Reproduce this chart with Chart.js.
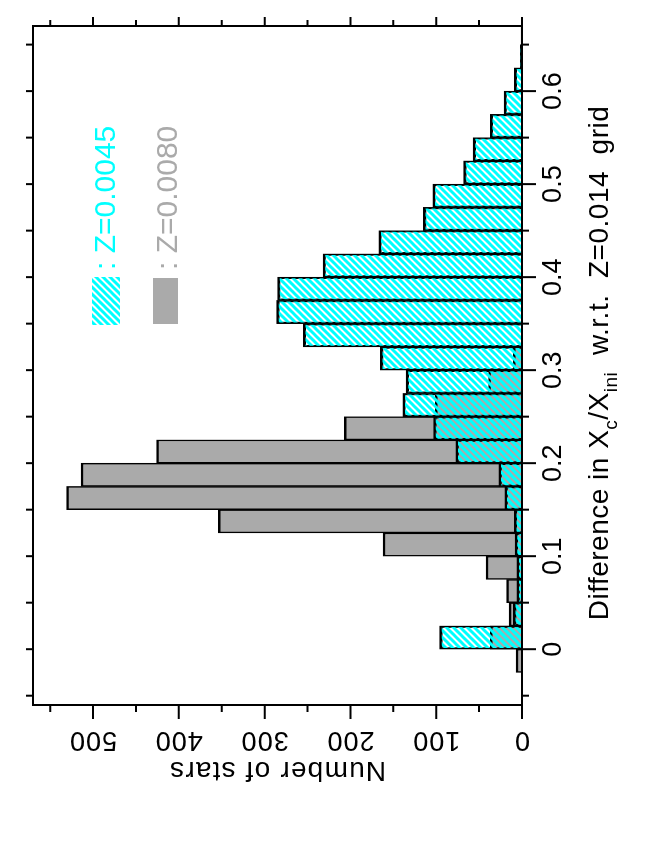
<!DOCTYPE html>
<html>
<head>
<meta charset="utf-8">
<title>Difference in Xc/Xini histogram</title>
<script src="https://cdn.jsdelivr.net/npm/chart.js@4/dist/chart.umd.min.js"></script>
<style>
  html, body { margin: 0; padding: 0; background: #fff; overflow: hidden; }
  /* the figure is drawn landscape and turned a quarter turn, like the printed page */
  #wrap {
    position: absolute; left: 0; top: 846px;
    width: 846px; height: 654px;
    transform-origin: 0 0; transform: rotate(-90deg);
  }
</style>
</head>
<body>
<div id="wrap"><canvas id="chart" width="846" height="654"></canvas></div>
<script>
// bin centres, bins are 0.025 wide
const binCenters = [-0.0125, 0.0125, 0.0375, 0.0625, 0.0875, 0.1125, 0.1375, 0.1625, 0.1875, 0.2125,
  0.2375, 0.2625, 0.2875, 0.3125, 0.3375, 0.3625, 0.3875, 0.4125, 0.4375, 0.4625,
  0.4875, 0.5125, 0.5375, 0.5625, 0.5875, 0.6125, 0.6375, 0.6625];

const countsZ0045 = [null, 96, 10, 6, 6, 8, 9, 20, 27, 77,
  103, 139, 135, 165, 255, 286, 285, 232, 167, 115,
  104, 68, 57, 37, 21, 9, 2, 1];

const countsZ0080 = [7, 37, 15, 18, 42, 162, 354, 531, 514, 426,
  207, 101, 39, 10, null, null, null, null, null, null,
  null, null, null, null, null, null, null, null];

const binTicks = [0, 0.1, 0.2, 0.3, 0.4, 0.5, 0.6];
const binTickLabels = ['0', '0.1', '0.2', '0.3', '0.4', '0.5', '0.6'];
const binMinor = [-0.05, 0.05, 0.15, 0.25, 0.35, 0.45, 0.55, 0.65];
const countTicks = [0, 100, 200, 300, 400, 500];
const countTickLabels = ['0', '100', '200', '300', '400', '500'];
const countMinor = [50, 150, 250, 350, 450, 550];

const FONT = "'Liberation Sans', Arial, Helvetica, sans-serif";
const CYAN = '#00ffff';
const GREY = '#aaaaaa';

// cyan diagonal hatching on a transparent ground
function makeHatch(color) {
  const s = 7;
  const c = document.createElement('canvas');
  c.width = s;
  c.height = s;
  const g = c.getContext('2d');
  g.strokeStyle = color;
  g.lineWidth = 3;
  g.beginPath();
  g.moveTo(0, s); g.lineTo(s, 0);
  g.moveTo(-s / 2, s / 2); g.lineTo(s / 2, -s / 2);
  g.moveTo(s / 2, s * 1.5); g.lineTo(s * 1.5, s / 2);
  g.stroke();
  return g.createPattern(c, 'repeat');
}

const hatch = makeHatch(CYAN);

// frame, ticks on all four sides, rotated labels, titles and legend
const framePlugin = {
  id: 'frame',
  afterDatasetsDraw(chart) {
    const ctx = chart.ctx;
    const { left, right, top, bottom } = chart.chartArea;
    const xs = chart.scales.x;
    const ys = chart.scales.y;

    ctx.save();
    ctx.strokeStyle = '#000';
    ctx.lineWidth = 2;
    ctx.strokeRect(left, top, right - left, bottom - top);

    ctx.beginPath();
    const xTick = (v, lenBottom, lenTop) => {
      const p = xs.getPixelForValue(v);
      ctx.moveTo(p, bottom); ctx.lineTo(p, bottom + lenBottom);
      ctx.moveTo(p, top); ctx.lineTo(p, top - lenTop);
    };
    const yTick = (v, lenLeft, lenRight) => {
      const p = ys.getPixelForValue(v);
      ctx.moveTo(left, p); ctx.lineTo(left - lenLeft, p);
      ctx.moveTo(right, p); ctx.lineTo(right + lenRight, p);
    };
    binTicks.forEach(v => xTick(v, 14, 7));
    binMinor.forEach(v => xTick(v, 7, 7));
    countTicks.forEach(v => yTick(v, 14, 9));
    countMinor.forEach(v => yTick(v, 7, 6));
    ctx.stroke();

    // count labels, written along the axis
    ctx.fillStyle = '#000';
    ctx.font = `27px ${FONT}`;
    ctx.textAlign = 'center';
    ctx.textBaseline = 'alphabetic';
    ctx.letterSpacing = '1px';
    countTicks.forEach((v, i) => {
      ctx.save();
      ctx.translate(114, ys.getPixelForValue(v));
      ctx.rotate(-Math.PI / 2);
      ctx.fillText(countTickLabels[i], 0, 0);
      ctx.restore();
    });

    // count axis title
    ctx.save();
    ctx.font = `28px ${FONT}`;
    ctx.letterSpacing = '1.2px';
    ctx.translate(84, (top + bottom) / 2);
    ctx.rotate(-Math.PI / 2);
    ctx.fillText('Number of stars', 0, 0);
    ctx.restore();

    // bin axis title with subscripts
    const parts = [
      ['Difference in X', false], ['c', true], ['/X', false], ['ini', true],
      ['  w.r.t.  Z=0.014  grid', false]
    ];
    const big = `28px ${FONT}`;
    const small = `19px ${FONT}`;
    ctx.letterSpacing = '0.5px';
    let total = 0;
    parts.forEach(([t, sub]) => { ctx.font = sub ? small : big; total += ctx.measureText(t).width; });
    let x = 483 - total / 2;
    ctx.textAlign = 'left';
    parts.forEach(([t, sub]) => {
      ctx.font = sub ? small : big;
      ctx.fillText(t, x, sub ? 617 : 608);
      x += ctx.measureText(t).width;
    });

    // legend
    const ds = chart.data.datasets;
    ctx.fillStyle = ds[0].backgroundColor;
    ctx.fillRect(521, 92, 48, 28);
    ctx.fillStyle = GREY;
    ctx.fillRect(522, 153, 46, 25);
    ctx.font = `30px ${FONT}`;
    ctx.letterSpacing = '0px';
    ctx.fillStyle = CYAN;
    ctx.fillText(': ' + ds[0].label, 576, 115);
    ctx.fillStyle = GREY;
    ctx.fillText(': ' + ds[1].label, 576, 177);
    ctx.restore();
  }
};

const barBorder = { top: 2.5, left: 1.5, right: 1.5, bottom: 0 };

new Chart(document.getElementById('chart').getContext('2d'), {
  type: 'bar',
  data: {
    datasets: [
      {
        label: 'Z=0.0045',
        data: binCenters.map((x, i) => ({ x, y: countsZ0045[i] })),
        backgroundColor: hatch,
        borderColor: '#000',
        borderWidth: barBorder,
        order: 0
      },
      {
        label: 'Z=0.0080',
        data: binCenters.map((x, i) => ({ x, y: countsZ0080[i] })),
        backgroundColor: GREY,
        borderColor: '#000',
        borderWidth: barBorder,
        order: 1
      }
    ]
  },
  options: {
    responsive: false,
    animation: false,
    devicePixelRatio: 1,
    grouped: false,
    barPercentage: 1,
    categoryPercentage: 1,
    layout: { padding: { top: 33, right: 26, left: 0, bottom: 0 } },
    plugins: {
      legend: { display: false },
      tooltip: { enabled: false }
    },
    scales: {
      x: {
        type: 'linear',
        offset: false,
        min: -0.06,
        max: 0.67,
        grid: { display: false, drawTicks: false, offset: false },
        border: { display: false },
        afterBuildTicks: (scale) => { scale.ticks = binTicks.map(v => ({ value: v })); },
        afterFit: (scale) => { scale.height = 132; },
        ticks: {
          padding: 15,
          color: '#000',
          autoSkip: false,
          maxRotation: 0,
          minRotation: 0,
          font: { family: FONT, size: 27 },
          callback: (value, index) => binTickLabels[index]
        }
      },
      y: {
        type: 'linear',
        min: 0,
        max: 570,
        grid: { display: false, drawTicks: false },
        border: { display: false },
        afterBuildTicks: (scale) => { scale.ticks = countTicks.map(v => ({ value: v })); },
        afterFit: (scale) => { scale.width = 141; },
        ticks: { display: false }
      }
    }
  },
  plugins: [framePlugin]
});
</script>
</body>
</html>
